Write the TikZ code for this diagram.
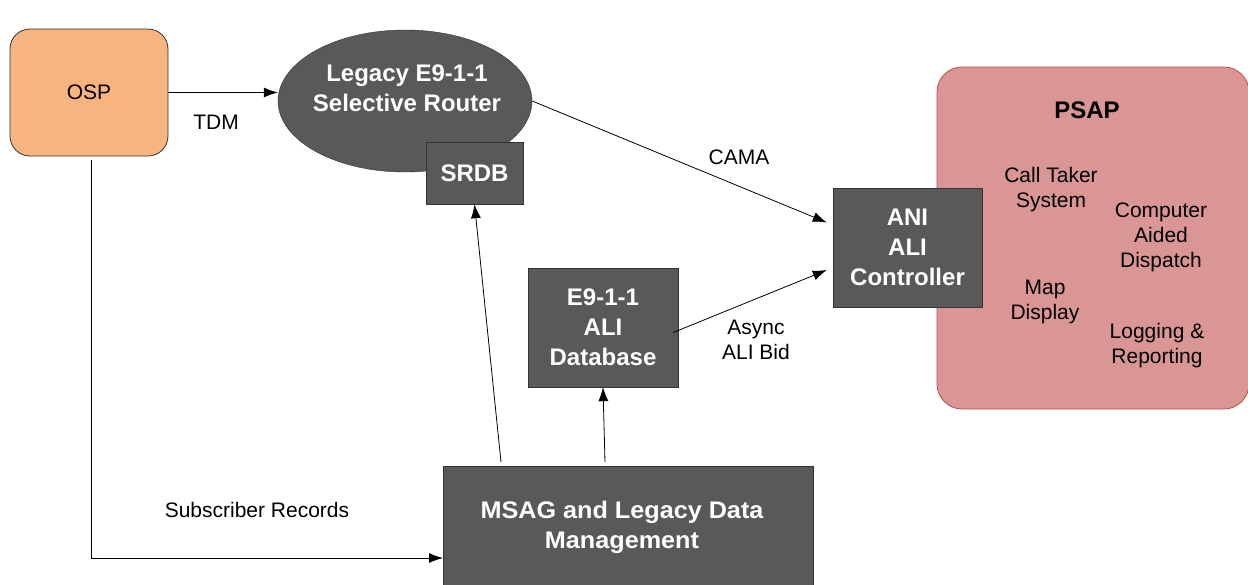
\documentclass[tikz,border=0pt]{standalone}
\usepackage{fontspec}
\setmainfont{Liberation Sans}
\definecolor{Block}{HTML}{595959}
\definecolor{Provider}{HTML}{F8B47F}
\definecolor{Center}{HTML}{D99694}
\definecolor{CenterLine}{HTML}{C0504D}
\usetikzlibrary{arrows.meta, calc, positioning, shapes.geometric}
\tikzset{
  block/.style={draw=black!80, fill=Block, text=white, font=\fontsize{24}{30}\selectfont\bfseries, align=center, inner sep=0pt},
  lbl/.style={font=\fontsize{21}{25}\selectfont, align=center, inner sep=0pt},
  flow/.style={-{Latex[length=14pt,width=10pt]}, line width=0.8pt},
}
\begin{document}
\begin{tikzpicture}[x=1pt, y=-1pt]
\useasboundingbox (0,0) rectangle (1248,584);
%psap
\node[draw=CenterLine, fill=Center, rounded corners=25pt, minimum width=312pt, minimum height=342pt, line width=0.8pt] (psap) at (1093,238) {};
\node[lbl, font=\fontsize{24}{30}\selectfont\bfseries] (psaptitle) at (1087,110) {PSAP};
\node[lbl] (taker) at (1051,190) {Call Taker\\System};
\node[lbl] (cad) at (1161,237) {Computer\\Aided\\Dispatch};
\node[lbl] (map) at (1045,302) {Map\\Display};
\node[lbl] (logging) at (1157,346) {Logging \&\\Reporting};
%osp
\node[draw=black!80, fill=Provider, rounded corners=20pt, minimum width=158pt, minimum height=127pt, line width=0.8pt, lbl] (osp) at (89,92.5) {OSP};
%router
\node[block, ellipse, minimum width=254pt, minimum height=142pt] (router) at (405,101) {};
\node[lbl, text=white, font=\fontsize{24}{30}\selectfont\bfseries] (routertext) at (407,88) {Legacy E9-1-1\\Selective Router};
\node[block, minimum width=97pt, minimum height=62pt] (srdb) at (474.5,173) {SRDB};
%controller and database
\node[block, minimum width=149pt, minimum height=119pt] (ani) at (907.5,247.5) {ANI\\ALI\\Controller};
\node[block, minimum width=150pt, minimum height=119pt] (alidb) at (603,327.5) {E9-1-1\\ALI\\Database};
\node[block, minimum width=370pt, minimum height=134pt, anchor=north west] (msag) at (443,466) {};
\node[lbl, text=white, font=\fontsize{24}{30}\selectfont\bfseries] (msagtext) at (622,527) {\scalebox{1.05}[1]{MSAG and Legacy Data}\\\scalebox{1.05}[1]{Management}};
%links
\draw[flow] (osp.east) -- (osp.east -| router.west);
\node[lbl] (tdm) at (216,122) {TDM};
\draw[flow] (router.east) -- ($(ani.west)+(-6,-25)$);
\node[lbl] (cama) at (739,157) {CAMA};
\draw[flow] ($(alidb.east)+(-5,5)$) -- ($(ani.west)+(-6,22.5)$);
\node[lbl] (async) at (756,340) {Async\\ALI Bid};
\draw[flow] ($(msag.north west)+(58,-4)$) -- (srdb.south);
\draw[flow] ($(msag.north west)+(162,-4)$) -- (alidb.south);
\coordinate (subin) at ($(msag.north west)+(0,92)$);
\draw[flow] ($(osp.south)+(2,4)$) |- (subin);
\node[lbl] (subscriber) at (257,510) {Subscriber Records};
\end{tikzpicture}
\end{document}
